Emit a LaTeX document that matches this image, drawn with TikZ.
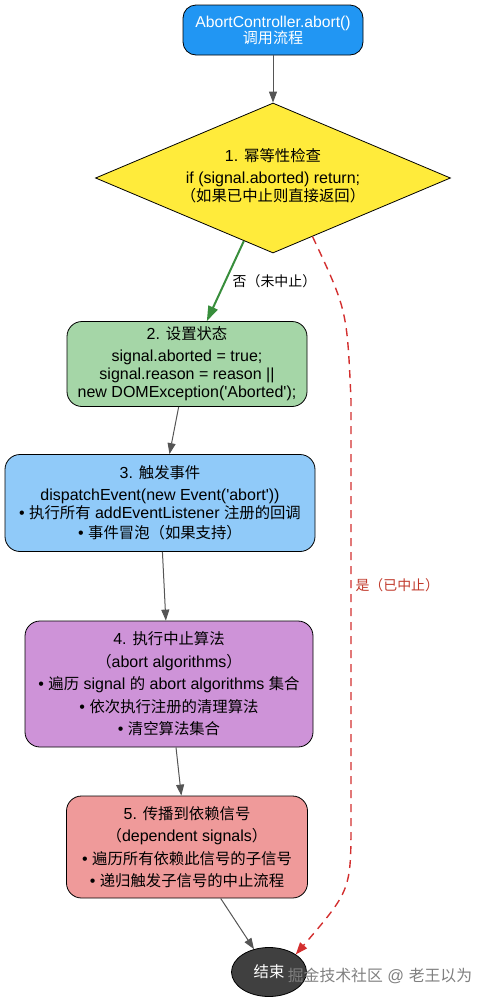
\documentclass[tikz,border=0pt]{standalone}
\usepackage{fontspec}
\setmainfont{Liberation Sans}
\newfontfamily\cjk[Scale=0.96]{Noto Sans CJK SC}
\newcommand{\zh}[1]{{\cjk #1}}
\usepackage{tikz}
\usetikzlibrary{arrows.meta,shapes.geometric,positioning}
\definecolor{startblue}{HTML}{2196F3}
\definecolor{checkyellow}{HTML}{FFEB3B}
\definecolor{stategreen}{HTML}{A5D6A7}
\definecolor{eventblue}{HTML}{90CAF9}
\definecolor{algopurple}{HTML}{CE93D8}
\definecolor{proppink}{HTML}{EF9A9A}
\definecolor{enddark}{HTML}{404040}
\definecolor{flowgray}{HTML}{555555}
\definecolor{nogreen}{HTML}{388E3C}
\definecolor{yesred}{HTML}{D32F2F}
\definecolor{yestext}{HTML}{C0392B}

\begin{document}
\begin{tikzpicture}[
  x=1pt, y=1pt,
  stepbox/.style={draw=black, line width=0.8pt, rounded corners=15pt, align=center, inner sep=0pt},
  flow/.style={draw=flowgray, line width=1pt, -{Triangle[length=11pt,width=8pt]}},
  small/.style={font=\fontsize{16}{18}\selectfont},
  roomy/.style={font=\fontsize{16}{22.5}\selectfont},
  edgetext/.style={font=\fontsize{14.5}{16}\selectfont}
]
\useasboundingbox (0,0) rectangle (492,-1002);

\node[stepbox, fill=startblue, text=white, minimum width=180pt, minimum height=50pt, rounded corners=13pt, font=\fontsize{15.7}{16}\selectfont] (start) at (273,-30)
  {AbortController.abort()\\ \zh{调用流程}};
\node[diamond, draw=black, line width=0.8pt, fill=checkyellow, minimum width=355pt, minimum height=150pt, inner sep=0pt] (chk) at (273,-178) {};
\node[align=center, inner sep=0pt, small] (chktext) at (273,-176)
  {1. \zh{幂等性检查}\\[4pt] if (signal.aborted) return;\\ \zh{（如果已中止则直接返回）}};
\node[stepbox, fill=stategreen, minimum width=240pt, minimum height=85pt, small] (setst) at (187,-364)
  {2. \zh{设置状态}\\[4pt] signal.aborted = true;\\ signal.reason = reason ||\\ new DOMException(\textquotesingle Aborted\textquotesingle);};
\node[stepbox, fill=eventblue, minimum width=310pt, minimum height=97pt, small] (fire) at (160,-503)
  {3. \zh{触发事件}\\[4pt] dispatchEvent(new Event(\textquotesingle abort\textquotesingle))\\ • \zh{执行所有} addEventListener \zh{注册的回调}\\[2pt] • \zh{事件冒泡（如果支持）}};
\node[stepbox, fill=algopurple, minimum width=288pt, minimum height=126pt, roomy] (algo) at (169,-684)
  {4. \zh{执行中止算法}\\ \zh{（}abort algorithms\zh{）}\\ • \zh{遍历} signal \zh{的} abort algorithms \zh{集合}\\ • \zh{依次执行注册的清理算法}\\ • \zh{清空算法集合}};
\node[stepbox, fill=proppink, minimum width=241pt, minimum height=102pt, roomy] (prop) at (187,-847)
  {5. \zh{传播到依赖信号}\\ \zh{（}dependent signals\zh{）}\\ • \zh{遍历所有依赖此信号的子信号}\\ • \zh{递归触发子信号的中止流程}};
\node[ellipse, draw=black, line width=0.8pt, fill=enddark, text=white, minimum width=75pt, minimum height=49pt, inner sep=0pt, small] (fin) at (269,-972) {\zh{结束}};

\draw[flow] (start) -- (chk);
\draw[draw=nogreen, line width=2pt, -{Triangle[length=15pt,width=10pt]}] (chk) -- (setst)
  node[pos=0.5, right=3pt, text=black, edgetext] (nolbl) {\zh{否（未中止）}};
\draw[flow] (setst) -- (fire);
\draw[flow] (fire) -- (algo);
\draw[flow] (algo) -- (prop);
\draw[flow] (prop) -- (fin);

\coordinate (bendtop) at (351,-400);
\coordinate (bendbot) at (351,-820);
\draw[draw=yesred, line width=1.4pt, dash pattern=on 8pt off 6pt, -{Triangle[length=12pt,width=9pt]}]
  (chk.-56) .. controls (347,-310) .. (bendtop) -- (bendbot) .. controls (351,-890) .. (fin.north east);
\node[anchor=west, text=yestext, edgetext] (yeslbl) at (352,-585) {\zh{是（已中止）}};

\node[text=black!50, font=\fontsize{16.5}{18}\selectfont] (mark) at (380,-976) {\zh{掘金技术社区} @ \zh{老王以为}};
\end{tikzpicture}
\end{document}
